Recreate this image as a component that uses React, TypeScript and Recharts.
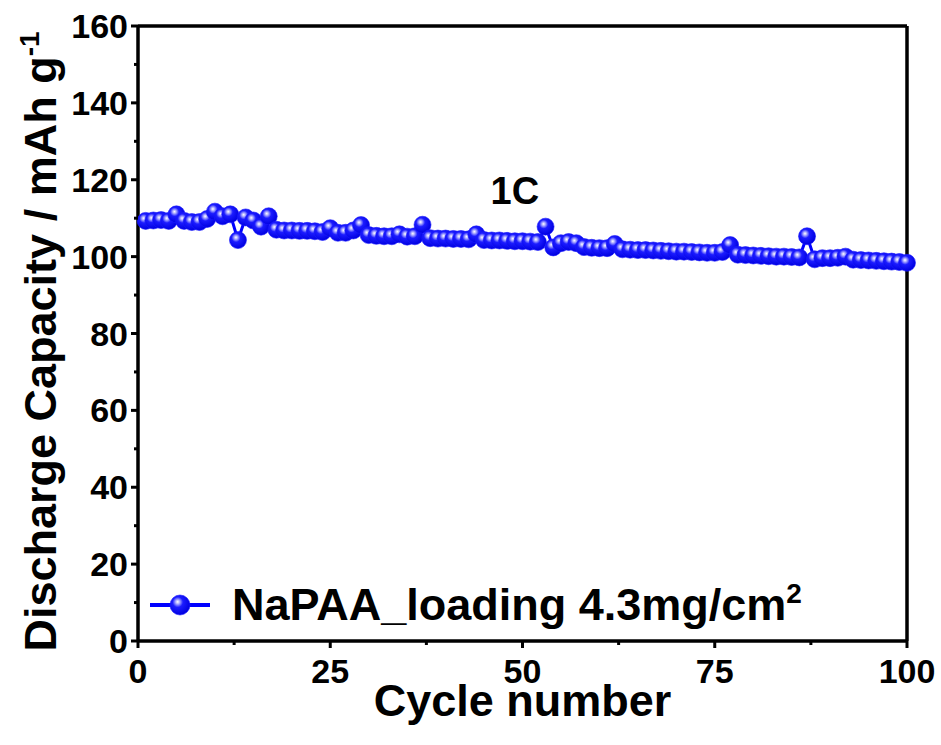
import * as React from "react";
import {
  ComposedChart,
  Line,
  XAxis,
  YAxis,
  Legend,
  ReferenceLine,
  ReferenceDot,
} from "recharts";

// discharge capacity (mAh/g) for cycles 1..100
const capacity = [
  109.3, 109.4, 109.5, 109.3, 111.0, 109.3, 109.0, 109.0, 109.8, 111.7,
  110.5, 111.0, 104.3, 110.2, 109.4, 107.8, 110.5, 107.0, 106.8, 106.8,
  106.7, 106.7, 106.6, 106.4, 107.4, 106.2, 106.2, 106.8, 108.2, 105.6,
  105.4, 105.3, 105.3, 105.8, 105.2, 105.3, 108.3, 104.8, 104.7, 104.7,
  104.6, 104.6, 104.5, 105.8, 104.3, 104.2, 104.2, 104.1, 104.0, 104.0,
  103.9, 103.8, 107.8, 102.4, 103.5, 103.8, 103.5, 102.5, 102.3, 102.2,
  102.2, 103.3, 101.9, 101.8, 101.7, 101.7, 101.6, 101.5, 101.4, 101.3,
  101.3, 101.2, 101.1, 101.0, 101.0, 101.2, 103.0, 100.5, 100.4, 100.3,
  100.2, 100.1, 100.0, 100.0, 99.9, 99.8, 105.3, 99.3, 99.6, 99.6,
  99.7, 100.0, 99.2, 99.1, 99.0, 98.9, 98.8, 98.7, 98.6, 98.4,
];

const xTicks = [0, 12.5, 25, 37.5, 50, 62.5, 75, 87.5, 100];
const xLabels = [0, 25, 50, 75, 100];
const yTicks = [0, 10, 20, 30, 40, 50, 60, 70, 80, 90, 100, 110, 120, 130, 140, 150, 160];
const yLabels = [0, 20, 40, 60, 80, 100, 120, 140, 160];

const seriesName = "NaPAA_loading 4.3mg/cm";
const rateLabel = "1C";

const data = capacity.map((v, i) => ({ cycle: i + 1, capacity: v }));

const FONT = '"Liberation Sans", Arial, Helvetica, sans-serif';
const BLUE = "#0000ff";

function Ball({ cx, cy, r = 7 }: { cx?: number; cy?: number; r?: number }) {
  if (cx == null || cy == null) return null;
  return <circle cx={cx} cy={cy} r={r} fill="url(#ballGrad)" stroke="#1a1aff" strokeWidth={0.6} />;
}

function XTick(props: any) {
  const { x, y, payload } = props;
  const major = xLabels.includes(payload.value);
  return (
    <g>
      <line x1={x} y1={y} x2={x} y2={y + (major ? 7 : 4)} stroke="#000" strokeWidth={3} />
      {major && (
        <text x={x} y={y + 42} textAnchor="middle" fontSize={34} fontWeight="bold" fontFamily={FONT} fill="#000">
          {payload.value}
        </text>
      )}
    </g>
  );
}

function YTick(props: any) {
  const { x, y, payload } = props;
  const major = yLabels.includes(payload.value);
  return (
    <g>
      <line x1={x} y1={y} x2={x - (major ? 7 : 4)} y2={y} stroke="#000" strokeWidth={3} />
      {major && (
        <text x={x - 10} y={y + 12} textAnchor="end" fontSize={34} fontWeight="bold" fontFamily={FONT} fill="#000">
          {payload.value}
        </text>
      )}
    </g>
  );
}

function LegendBox() {
  return (
    <svg width={720} height={60} style={{ display: "block", overflow: "visible" }}>
      <line x1={2} y1={27} x2={62} y2={27} stroke={BLUE} strokeWidth={4} />
      <Ball cx={32} cy={27} r={10} />
      <text x={84} y={42} fontSize={45} fontWeight="bold" fontFamily={FONT} fill="#000">
        {seriesName}
        <tspan fontSize={28} dy={-17}>2</tspan>
      </text>
    </svg>
  );
}

export default function App() {
  return (
    <div style={{ position: "absolute", left: 0, top: 0, background: "#fff" }}>
      <ComposedChart
        width={941}
        height={745}
        data={data}
        margin={{ top: 26, right: 34, bottom: 0, left: 0 }}
      >
        <defs>
          <radialGradient id="ballGrad" cx="0.4" cy="0.38" r="0.62" fx="0.38" fy="0.34">
            <stop offset="0" stopColor="#ffffff" />
            <stop offset="0.16" stopColor="#b0b0ff" />
            <stop offset="0.42" stopColor="#1c1cff" />
            <stop offset="1" stopColor="#0000e0" />
          </radialGradient>
        </defs>
        <XAxis
          dataKey="cycle"
          type="number"
          domain={[0, 100]}
          ticks={xTicks}
          interval={0}
          height={104}
          tickSize={0}
          tickMargin={0}
          tick={<XTick />}
          tickLine={false}
          axisLine={{ stroke: "#000", strokeWidth: 3.5 }}
          label={{
            content: (p: any) => {
              const vb = p.viewBox;
              return (
                <text x={vb.x + vb.width / 2} y={vb.y + 75} textAnchor="middle" fontSize={45} fontWeight="bold" fontFamily={FONT} fill="#000">
                  Cycle number
                </text>
              );
            },
          }}
        />
        <YAxis
          type="number"
          domain={[0, 160]}
          ticks={yTicks}
          interval={0}
          width={138}
          tickSize={0}
          tickMargin={0}
          tick={<YTick />}
          tickLine={false}
          axisLine={{ stroke: "#000", strokeWidth: 3.5 }}
          label={{
            content: (p: any) => {
              const vb = p.viewBox;
              const cx = 56;
              const cy = vb.y + vb.height / 2 + 8;
              return (
                <text
                  x={cx}
                  y={cy}
                  transform={`rotate(-90 ${cx} ${cy})`}
                  textAnchor="middle"
                  fontSize={45}
                  fontWeight="bold"
                  fontFamily={FONT}
                  fill="#000"
                >
                  Discharge Capacity / mAh g
                  <tspan fontSize={28} dy={-17}>-1</tspan>
                </text>
              );
            },
          }}
        />
        <ReferenceLine y={160} stroke="#000" strokeWidth={3.5} />
        <ReferenceLine x={100} stroke="#000" strokeWidth={3.5} />
        <ReferenceDot
          x={49}
          y={117.3}
          r={0}
          fill="none"
          stroke="none"
          label={{ value: rateLabel, position: "center", fontSize: 38, fontWeight: "bold", fontFamily: FONT, fill: "#000" }}
        />
        <Line
          type="linear"
          dataKey="capacity"
          name={seriesName}
          stroke={BLUE}
          strokeWidth={3}
          dot={<Ball r={8.5} />}
          activeDot={false}
          isAnimationActive={false}
        />
        <Legend
          layout="horizontal"
          align="center"
          verticalAlign="middle"
          content={<LegendBox />}
          wrapperStyle={{ position: "absolute", left: 148, top: 578, width: 720, height: 60 }}
        />
      </ComposedChart>
    </div>
  );
}
